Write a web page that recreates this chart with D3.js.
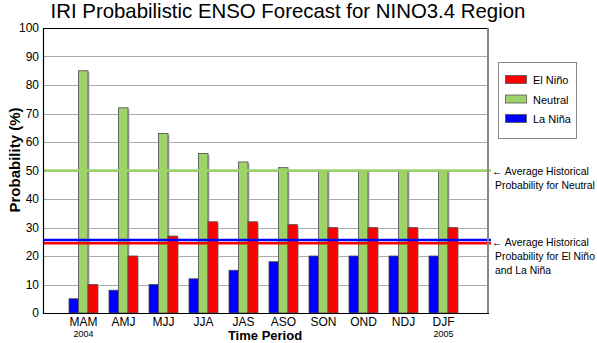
<!DOCTYPE html>
<html>
<head>
<meta charset="utf-8">
<script src="https://cdn.jsdelivr.net/npm/d3@7"></script>
<style>
  body { margin: 0; background: #fff; }
  svg { font-family: "Liberation Sans", Arial, sans-serif; }
</style>
</head>
<body>
<div id="vis"></div>
<script>
var periods = ['MAM', 'AMJ', 'MJJ', 'JJA', 'JAS', 'ASO', 'SON', 'OND', 'NDJ', 'DJF'];
var years = {MAM: '2004', DJF: '2005'};
var laNina = [5, 8, 10, 12, 15, 18, 20, 20, 20, 20];
var neutral = [85, 72, 63, 56, 53, 51, 50, 50, 50, 50];
var elNino = [10, 20, 27, 32, 32, 31, 30, 30, 30, 30];
var yTicks = [0, 10, 20, 30, 40, 50, 60, 70, 80, 90, 100];
var histNeutral = 50;
var histNina = 25.6;
var histNino = 24.5;

var W = 597, H = 343;
var plot = {left: 43, right: 487, top: 28, bottom: 313};

var colors = {nina: '#0000ff', neutral: '#9ed36a', nino: '#ff0000'};

var svg = d3.select('#vis').append('svg')
    .attr('width', W)
    .attr('height', H);

var y = d3.scaleLinear()
    .domain([0, 100])
    .range([plot.bottom, plot.top]);

var x = d3.scaleBand()
    .domain(periods)
    .range([63.5, 463.5]);

// title
svg.append('text')
    .attr('x', 288)
    .attr('y', 18)
    .attr('text-anchor', 'middle')
    .style('font-size', '20.4px')
    .text('IRI Probabilistic ENSO Forecast for NINO3.4 Region');

// grid lines
svg.append('g')
    .selectAll('line')
    .data(yTicks.filter(d => d > 0 && d < 100))
    .enter()
    .append('line')
        .attr('x1', plot.left)
        .attr('x2', plot.right)
        .attr('y1', d => Math.round(y(d)) + 0.5)
        .attr('y2', d => Math.round(y(d)) + 0.5)
        .style('stroke', '#aaa')
        .style('stroke-width', 1);

// y axis labels
var yAxis = svg.append('g')
    .attr('transform', 'translate(' + plot.left + ',0)')
    .call(d3.axisLeft(y).tickValues(yTicks).tickSize(0).tickPadding(4));
yAxis.select('.domain').remove();
yAxis.selectAll('text')
    .style('font-family', '"Liberation Sans", Arial, sans-serif')
    .style('font-size', '12px')
    .attr('fill', '#000');

// bars
var series = [
    {key: 'nina', values: laNina, off: -14.5},
    {key: 'neutral', values: neutral, off: -5},
    {key: 'nino', values: elNino, off: 4.5}
];
var bw = 9.5;

series.forEach(function(s) {
    var g = svg.append('g');
    // drop shadow
    g.selectAll('rect.shadow')
        .data(periods)
        .enter()
        .append('rect')
            .attr('class', 'shadow')
            .attr('x', (d, i) => x(d) + x.bandwidth() / 2 + s.off + 1.5)
            .attr('y', (d, i) => y(s.values[i]) + 1.5)
            .attr('width', bw)
            .attr('height', (d, i) => plot.bottom - y(s.values[i]) - 1.5)
            .style('fill', '#bbb');
    g.selectAll('rect.bar')
        .data(periods)
        .enter()
        .append('rect')
            .attr('class', 'bar')
            .attr('x', (d, i) => x(d) + x.bandwidth() / 2 + s.off)
            .attr('y', (d, i) => y(s.values[i]))
            .attr('width', bw)
            .attr('height', (d, i) => plot.bottom - y(s.values[i]))
            .style('fill', colors[s.key])
            .style('stroke', '#4a4a4a')
            .style('stroke-width', 0.8);
});

// historical average lines
var hist = [
    {v: histNeutral, c: colors.neutral},
    {v: histNino, c: colors.nino},
    {v: histNina, c: colors.nina}
];
svg.append('g')
    .selectAll('line')
    .data(hist)
    .enter()
    .append('line')
        .attr('x1', plot.left)
        .attr('x2', 491)
        .attr('y1', d => y(d.v))
        .attr('y2', d => y(d.v))
        .style('stroke', d => d.c)
        .style('stroke-width', 2.6);

// plot frame
svg.append('line')
    .attr('x1', plot.right + 1).attr('x2', plot.right + 1)
    .attr('y1', plot.top).attr('y2', plot.bottom)
    .style('stroke', '#888').style('stroke-width', 2);
svg.append('path')
    .attr('d', 'M' + plot.right + ',' + (plot.top + 0.5) + 'H' + (plot.left + 0.5) + 'V' + (plot.bottom + 0.5) + 'H' + (plot.right + 2))
    .style('fill', 'none')
    .style('stroke', '#000')
    .style('stroke-width', 1.2);

// x labels
var xl = svg.append('g');
xl.selectAll('text.per')
    .data(periods)
    .enter()
    .append('text')
        .attr('class', 'per')
        .attr('x', d => x(d) + x.bandwidth() / 2)
        .attr('y', 325.8)
        .attr('text-anchor', 'middle')
        .style('font-size', '12px')
        .text(d => d);
xl.selectAll('text.yr')
    .data(periods.filter(d => years[d]))
    .enter()
    .append('text')
        .attr('class', 'yr')
        .attr('x', d => x(d) + x.bandwidth() / 2)
        .attr('y', 337)
        .attr('text-anchor', 'middle')
        .style('font-size', '9px')
        .text(d => years[d]);

// axis titles
svg.append('text')
    .attr('x', 265)
    .attr('y', 340.2)
    .attr('text-anchor', 'middle')
    .style('font-size', '13px')
    .style('font-weight', 'bold')
    .text('Time Period');
svg.append('text')
    .attr('transform', 'translate(20,160) rotate(-90)')
    .attr('text-anchor', 'middle')
    .style('font-size', '15px')
    .style('font-weight', 'bold')
    .text('Probability (%)');

// legend
var legendItems = [
    {label: 'El Niño', c: colors.nino},
    {label: 'Neutral', c: colors.neutral},
    {label: 'La Niña', c: colors.nina}
];
var lg = svg.append('g');
lg.append('rect')
    .attr('x', 498.5).attr('y', 62.5)
    .attr('width', 78).attr('height', 76)
    .style('fill', '#fff')
    .style('stroke', '#888');
legendItems.forEach(function(d, i) {
    lg.append('rect')
        .attr('x', 505.5).attr('y', 75.5 + i * 19.5)
        .attr('width', 21).attr('height', 8)
        .style('fill', d.c)
        .style('stroke', '#555')
        .style('stroke-width', 0.8);
    lg.append('text')
        .attr('x', 533).attr('y', 84 + i * 19.5)
        .style('font-size', '11px')
        .text(d.label);
});

// annotations
var notes = [
    {v: histNeutral, lines: ['\u2190 Average Historical', 'Probability for Neutral']},
    {v: (histNino + histNina) / 2, lines: ['\u2190 Average Historical', 'Probability for El Niño', 'and La Niña']}
];
notes.forEach(function(n) {
    var t = svg.append('text')
        .attr('x', 492)
        .attr('y', y(n.v) + 4)
        .style('font-size', '10.4px');
    n.lines.forEach(function(l, i) {
        t.append('tspan')
            .attr('x', i === 0 ? 492 : 495)
            .attr('dy', i === 0 ? 0 : 14)
            .text(l);
    });
});
</script>
</body>
</html>
